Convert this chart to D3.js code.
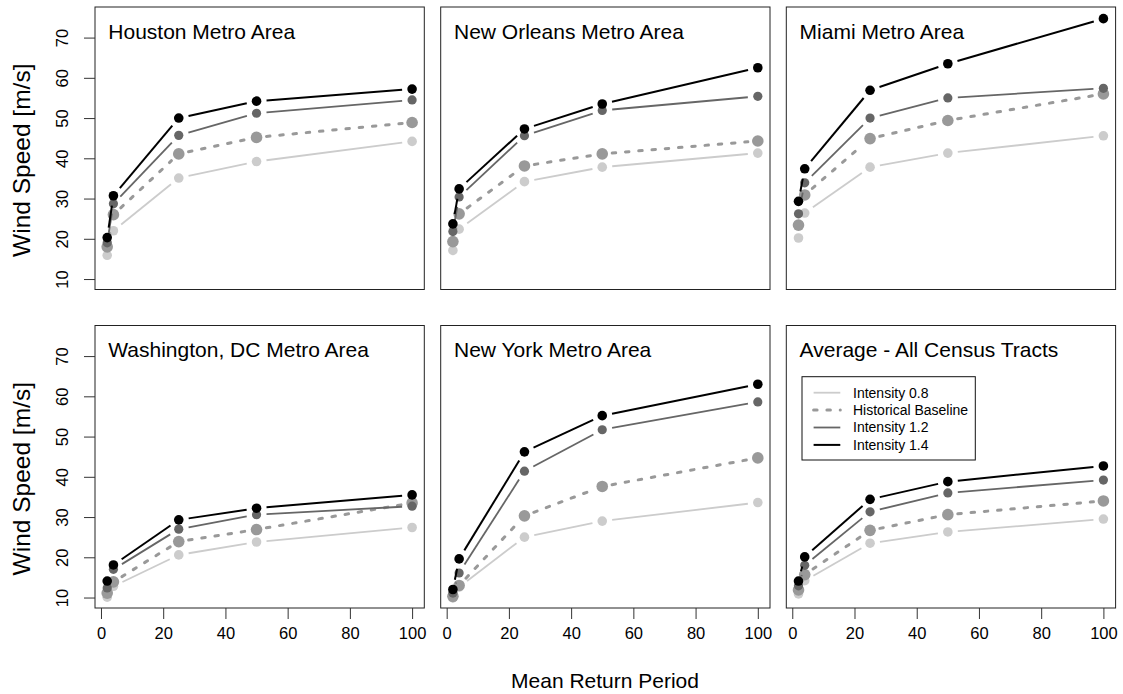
<!DOCTYPE html>
<html>
<head>
<meta charset="utf-8">
<script src="https://cdn.jsdelivr.net/npm/d3@7"></script>
<style>
  body { margin: 0; background: #fff; }
  svg { display: block; font-family: "Liberation Sans", Arial, Helvetica, sans-serif; }
</style>
</head>
<body>
<div id="chart"></div>
<script>
'use strict';

// return periods (x values) and panels
var returnPeriods = [2, 4, 25, 50, 100];
var regions = [
    'Houston Metro Area', 'New Orleans Metro Area', 'Miami Metro Area',
    'Washington, DC Metro Area', 'New York Metro Area', 'Average - All Census Tracts'
];
var xTicks = [0, 20, 40, 60, 80, 100];
var yTicks = [10, 20, 30, 40, 50, 60, 70];
var seriesNames = ['Intensity 0.8', 'Historical Baseline', 'Intensity 1.2', 'Intensity 1.4'];

// wind speeds [m/s], one row per region
var intensity08 = [
    [15.9, 22.0, 35.1, 39.2, 44.2],
    [17.1, 22.4, 34.2, 37.8, 41.3],
    [20.2, 26.4, 37.8, 41.3, 45.6],
    [10.1, 12.8, 20.6, 23.8, 27.4],
    [9.9, 12.6, 25.0, 29.0, 33.6],
    [10.9, 14.2, 23.5, 26.3, 29.5]
];
var baseline = [
    [18.0, 26.0, 41.1, 45.2, 48.9],
    [19.3, 26.2, 38.1, 41.1, 44.3],
    [23.4, 30.9, 44.9, 49.4, 56.0],
    [11.1, 13.9, 23.9, 26.9, 33.5],
    [10.3, 13.0, 30.3, 37.6, 44.7],
    [11.9, 15.7, 26.7, 30.6, 34.0]
];
var intensity12 = [
    [19.0, 28.7, 45.7, 51.2, 54.5],
    [21.8, 30.4, 45.6, 51.9, 55.4],
    [26.2, 33.9, 50.0, 55.0, 57.4],
    [12.4, 17.0, 27.0, 30.6, 32.7],
    [11.1, 16.1, 41.4, 51.7, 58.6],
    [12.9, 18.0, 31.3, 36.0, 39.2]
];
var intensity14 = [
    [20.3, 30.7, 50.0, 54.2, 57.2],
    [23.7, 32.4, 47.3, 53.5, 62.5],
    [29.3, 37.4, 56.9, 63.5, 74.7],
    [14.1, 18.1, 29.3, 32.2, 35.5],
    [12.0, 19.6, 46.2, 55.2, 63.0],
    [14.1, 20.1, 34.4, 38.8, 42.7]
];

var width = 1123, height = 694;
var panelLefts = [95, 440.7, 786.3];
var panelTops = [7, 325.5];
var panelW = 329.3, panelH = 282.5;
var gap = 10; // R type="b" gap around points

var styles = [
    {data: intensity08, color: '#cccccc', lw: 1.8, r: 4.8, dash: null},
    {data: baseline, color: '#999999', lw: 3, r: 5.8, dash: '3.5,9.8'},
    {data: intensity12, color: '#666666', lw: 1.8, r: 4.6, dash: null},
    {data: intensity14, color: '#000000', lw: 2, r: 4.8, dash: null}
];

var svg = d3.select('#chart').append('svg')
    .attr('width', width)
    .attr('height', height);

regions.forEach(function (name, p) {
    var col = p % 3, row = Math.floor(p / 3);
    var left = panelLefts[col], top = panelTops[row];

    var x = d3.scaleLinear().domain([2 - 3.92, 100 + 3.92]).range([left, left + panelW]);
    var y = d3.scaleLinear().domain([7.4, 77.6]).range([top + panelH, top]);

    var g = svg.append('g');

    styles.forEach(function (s) {
        var pts = s.data[p].map(function (v, i) {
            return [x(returnPeriods[i]), y(v)];
        });
        // segments with a gap at each end, dropped when too short
        for (var i = 0; i < pts.length - 1; i++) {
            var dx = pts[i + 1][0] - pts[i][0], dy = pts[i + 1][1] - pts[i][1];
            var len = Math.sqrt(dx * dx + dy * dy);
            if (len <= 2 * gap) { continue; }
            var ux = dx / len, uy = dy / len;
            g.append('line')
                .attr('x1', pts[i][0] + ux * gap)
                .attr('y1', pts[i][1] + uy * gap)
                .attr('x2', pts[i + 1][0] - ux * gap)
                .attr('y2', pts[i + 1][1] - uy * gap)
                .attr('stroke', s.color)
                .attr('stroke-width', s.lw)
                .attr('stroke-linecap', s.dash ? 'round' : 'butt')
                .attr('stroke-dasharray', s.dash);
        }
        g.selectAll(null)
            .data(pts)
            .enter().append('circle')
            .attr('cx', function (d) { return d[0]; })
            .attr('cy', function (d) { return d[1]; })
            .attr('r', s.r)
            .attr('fill', s.color);
    });

    g.append('rect')
        .attr('x', left).attr('y', top)
        .attr('width', panelW).attr('height', panelH)
        .attr('fill', 'none')
        .attr('stroke', '#222')
        .attr('stroke-width', 1);

    g.append('text')
        .attr('x', left + 13.3)
        .attr('y', top + 31.5)
        .attr('font-size', 21)
        .attr('fill', '#000')
        .text(name);

    if (row === 1) {
        var xa = g.append('g')
            .attr('transform', 'translate(0,' + (top + panelH) + ')')
            .call(d3.axisBottom(x).tickValues(xTicks).tickSize(11).tickPadding(8).tickSizeOuter(0));
        xa.select('.domain').remove();
        xa.selectAll('line').attr('stroke', '#333');
        xa.selectAll('text').attr('font-size', 16.5).attr('font-family', null).attr('fill', '#000');
    }

    if (col === 0) {
        var ya = g.append('g')
            .attr('transform', 'translate(' + left + ',0)')
            .call(d3.axisLeft(y).tickValues(yTicks).tickSize(11).tickSizeOuter(0));
        ya.select('.domain').remove();
        ya.selectAll('line').attr('stroke', '#333');
        ya.selectAll('text')
            .attr('font-size', 16.5)
            .attr('font-family', null)
            .attr('fill', '#000')
            .attr('x', null).attr('dy', '0.35em')
            .attr('text-anchor', 'middle')
            .attr('transform', 'translate(-32.3,0) rotate(-90)');

        svg.append('text')
            .attr('transform', 'translate(21.7,' + (top + panelH / 2 + 12) + ') rotate(-90)')
            .attr('text-anchor', 'middle')
            .attr('dy', '0.35em')
            .attr('font-size', 24.5)
            .text('Wind Speed [m/s]');
    }

    // legend sits in the last panel
    if (p === regions.length - 1) {
        var lg = g.append('g').attr('transform', 'translate(' + (left + 15.7) + ',' + (top + 51.2) + ')');
        lg.append('rect')
            .attr('width', 173.3).attr('height', 83.3)
            .attr('fill', '#fff')
            .attr('stroke', '#111')
            .attr('stroke-width', 1);
        seriesNames.forEach(function (label, i) {
            var s = styles[i], cy = 16 + i * 17.4;
            lg.append('line')
                .attr('x1', 11.6).attr('x2', 38.3)
                .attr('y1', cy).attr('y2', cy)
                .attr('stroke', s.color)
                .attr('stroke-width', s.lw)
                .attr('stroke-linecap', s.dash ? 'round' : 'butt')
                .attr('stroke-dasharray', s.dash);
            lg.append('text')
                .attr('x', 51)
                .attr('y', cy)
                .attr('dy', '0.35em')
                .attr('font-size', 14)
                .text(label);
        });
    }
});

svg.append('text')
    .attr('x', 605)
    .attr('y', 688.3)
    .attr('text-anchor', 'middle')
    .attr('font-size', 21)
    .text('Mean Return Period');
</script>
</body>
</html>
